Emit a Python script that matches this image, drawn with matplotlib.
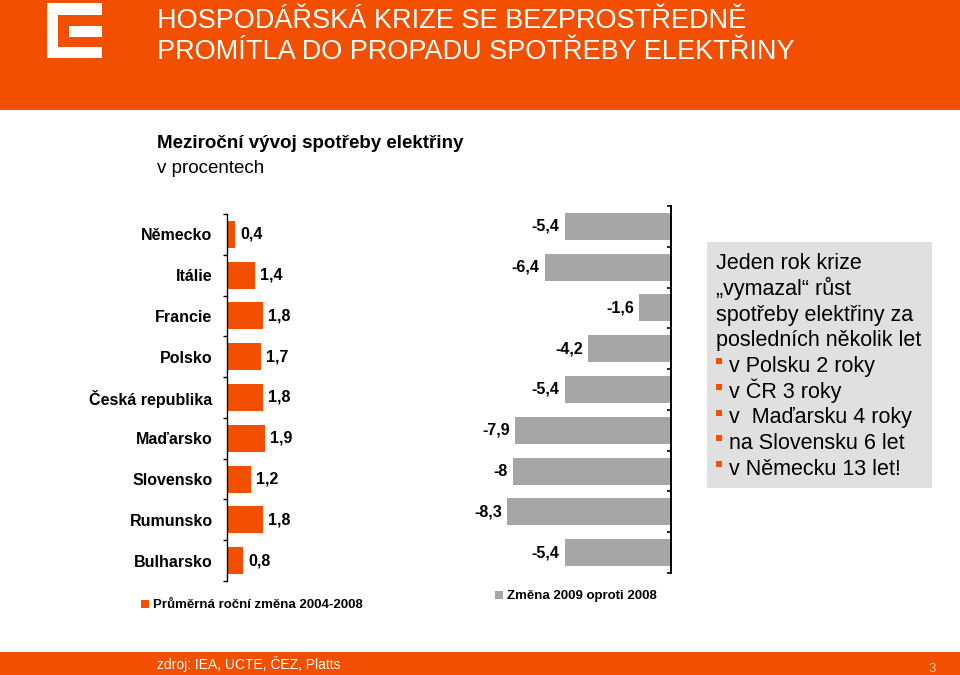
import matplotlib
matplotlib.use("Agg")
import matplotlib.pyplot as plt
from matplotlib.patches import Rectangle

plt.rcParams['font.family'] = ['Liberation Sans', 'DejaVu Sans']

# data
countries = ["Německo", "Itálie", "Francie", "Polsko", "Česká republika",
             "Maďarsko", "Slovensko", "Rumunsko", "Bulharsko"]
avg_change = [0.4, 1.4, 1.8, 1.7, 1.8, 1.9, 1.2, 1.8, 0.8]
change_2009 = [-5.4, -6.4, -1.6, -4.2, -5.4, -7.9, -8.0, -8.3, -5.4]

title_lines = ["HOSPODÁŘSKÁ KRIZE SE BEZPROSTŘEDNĚ",
               "PROMÍTLA DO PROPADU SPOTŘEBY ELEKTŘINY"]
box_lines = ["Jeden rok krize", "„vymazal“ růst", "spotřeby elektřiny za",
             "posledních několik let"]
box_bullets = ["v Polsku 2 roky", "v ČR 3 roky", "v  Maďarsku 4 roky",
               "na Slovensku 6 let", "v Německu 13 let!"]

ORANGE = "#F24F00"
GREY = "#A6A6A6"

W, H = 960, 675
fig = plt.figure(figsize=(W / 100, H / 100), dpi=100)

# background layer in pixel coordinates
bg = fig.add_axes([0, 0, 1, 1], zorder=0)
bg.set_xlim(0, W)
bg.set_ylim(H, 0)
bg.axis("off")

# header + logo
bg.add_patch(Rectangle((0, 0), W, 109.5, color=ORANGE, lw=0))
for x, y, w, h in [(47, 3, 11, 55), (47, 3, 55, 12), (47, 47, 55, 11), (69, 26, 33, 11)]:
    bg.add_patch(Rectangle((x, y), w, h, color="white", lw=0))
for i, line in enumerate(title_lines):
    bg.text(157, 28 + i * 31, line, color="white", fontsize=19.5, va="baseline")

bg.text(157, 148, "Meziroční vývoj spotřeby elektřiny", fontsize=13.5,
        fontweight="bold", va="baseline")
bg.text(157, 173, "v procentech", fontsize=13.5, va="baseline")

# text box on the right
bg.add_patch(Rectangle((707, 242), 225, 246, color="#E0E0E0", lw=0))
y0, step = 269, 25.75
for i, line in enumerate(box_lines):
    bg.text(716, y0 + i * step, line, fontsize=15.5, va="baseline")
for j, line in enumerate(box_bullets):
    yb = y0 + (len(box_lines) + j) * step
    bg.add_patch(Rectangle((716, yb - 14), 6, 6, color=ORANGE, lw=0))
    bg.text(729, yb, line, fontsize=15.5, va="baseline")

# legend
bg.add_patch(Rectangle((141, 600), 8, 8, color=ORANGE, lw=0))
bg.text(153, 608, "Průměrná roční změna 2004-2008", fontsize=9.5,
        fontweight="bold", va="baseline")
bg.add_patch(Rectangle((495, 591), 8, 8, color=GREY, lw=0))
bg.text(507, 599, "Změna 2009 oproti 2008", fontsize=9.5,
        fontweight="bold", va="baseline")

# footer
bg.add_patch(Rectangle((0, 652), W, H - 652, color=ORANGE, lw=0))
bg.text(157, 669, "zdroj: IEA, UCTE, ČEZ, Platts", color="white", fontsize=10,
        va="baseline")
bg.text(928, 671.5, "3", color="#F8C8A0", fontsize=9.5, va="baseline")

n = len(countries)
pos = list(range(n))
fmt = lambda v: "{:g}".format(v).replace(".", ",")

# left chart: average yearly change
axl = fig.add_axes([226.5 / W, 1 - 581 / H, 200 / W, 367 / H], zorder=1)
axl.patch.set_alpha(0)
bars_l = axl.barh(pos, avg_change, height=0.66, color=ORANGE)
axl.bar_label(bars_l, labels=[fmt(v) for v in avg_change], padding=4,
              fontsize=11.5, fontweight="bold")
axl.set_xlim(0, 10)
axl.set_ylim(n - 0.5, -0.5)
axl.set_yticks([p - 0.5 for p in pos] + [n - 0.5])
axl.set_yticklabels([])
axl.set_yticks(pos, minor=True)
axl.set_yticklabels(countries, minor=True, fontsize=11.5, fontweight="bold")
axl.tick_params(axis="y", which="major", direction="out", length=3, width=1)
axl.tick_params(axis="y", which="minor", length=0, pad=10)
axl.set_xticks([])
for s in ["top", "right", "bottom"]:
    axl.spines[s].set_visible(False)
axl.spines["left"].set_linewidth(1)

# right chart: change 2009 vs 2008
axr = fig.add_axes([(671 - 197) / W, 1 - 573 / H, 197 / W, 367 / H], zorder=1)
axr.patch.set_alpha(0)
bars_r = axr.barh(pos, change_2009, height=0.66, color=GREY)
axr.bar_label(bars_r, labels=[fmt(v) for v in change_2009], padding=4,
              fontsize=11.5, fontweight="bold")
axr.set_xlim(-10, 0)
axr.set_ylim(n - 0.5, -0.5)
axr.yaxis.tick_right()
axr.set_yticks([p - 0.5 for p in pos] + [n - 0.5])
axr.set_yticklabels([])
axr.tick_params(axis="y", direction="in", length=3, width=1.2)
axr.set_xticks([])
for s in ["top", "left", "bottom"]:
    axr.spines[s].set_visible(False)
axr.spines["right"].set_linewidth(1.4)

fig.savefig("out.png", dpi=100)
